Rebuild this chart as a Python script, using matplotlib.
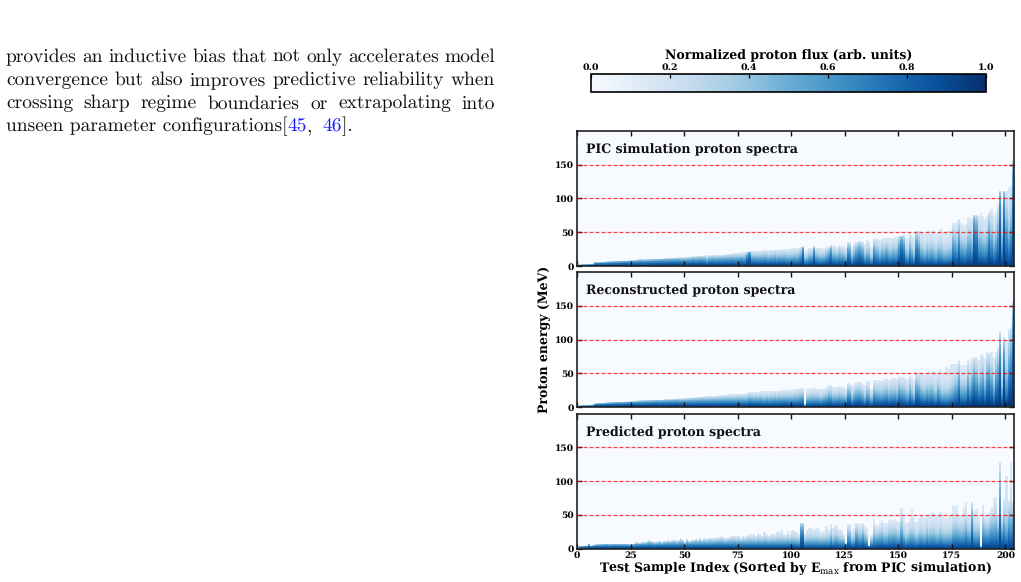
import numpy as np
import matplotlib
matplotlib.use('Agg')
import matplotlib.pyplot as plt
from matplotlib.cm import ScalarMappable
from matplotlib.colors import Normalize
from matplotlib.transforms import IdentityTransform

W, H = 1021, 582

# highest proton energy per test sample (MeV)
emax_pic = [
    2.5, 2.6, 2.8, 3, 3, 3.2, 3.4, 3.5, 6, 6,
    6.2, 6.3, 6.4, 6.5, 6.7, 6.8, 7, 7.2, 7.4, 7.6,
    7.8, 8, 8.2, 8.4, 8.6, 8.8, 9, 9.2, 9.5, 10,
    10, 10, 10.2, 10.4, 10.6, 10.8, 11, 11, 11.2, 11.4,
    11.6, 11.8, 12, 12, 12.2, 12.4, 12.5, 12.5, 12.6, 12.8,
    13, 13.5, 14, 14.5, 14.5, 15, 15, 15.2, 15.4, 15.6,
    15, 15.8, 16, 16, 16.2, 16.5, 16.8, 17, 17.2, 17.5,
    18, 18, 18.5, 18.5, 19, 19, 19.5, 19.5, 20, 20,
    21.5, 21.5, 22, 22, 22.2, 22.2, 22.5, 23, 23, 22.5,
    23, 23.5, 24, 23.5, 24, 24.5, 24.5, 24.5, 25, 24.5,
    25.5, 26, 26, 27, 28, 28.5, 22, 23, 26, 26,
    28.5, 28, 27, 26, 26, 25, 28, 28, 31, 30,
    30, 28, 31, 30, 29, 26, 35, 35, 28, 32,
    36, 37, 37, 36, 32, 38, 37, 28, 40, 40,
    40, 38, 40, 41, 41, 41, 42, 42, 43, 43,
    45, 45, 46, 42, 40, 50, 46, 41, 52, 52,
    51, 50, 47, 52, 54, 52, 54, 48, 50, 55,
    55, 50, 52, 52, 54, 64, 64, 66, 70, 64,
    60, 62, 73, 72, 70, 75, 75, 74, 78, 74,
    70, 74, 80, 85, 76, 80, 92, 111, 90, 111,
    111, 115, 118, 157,
]
emax_rec = [
    2.5, 2.6, 2.8, 3, 3, 3.2, 3.4, 3.5, 5.5, 6,
    6.2, 6.3, 6.4, 6.5, 6.7, 6.8, 7, 7.2, 7.4, 7.6,
    7.8, 8, 8.2, 8.4, 8.6, 8.8, 9, 9.2, 9.5, 9.8,
    10, 10, 10.2, 10.4, 10.6, 10.8, 11, 11, 11.2, 11.4,
    11.6, 11.8, 12, 12, 12.2, 12.4, 12.5, 12.5, 12.6, 12.8,
    13, 13.5, 14, 14, 14.5, 14.5, 15, 15.2, 15.4, 15.6,
    16, 16.2, 16.5, 16.5, 16.8, 17, 17.5, 17.5, 18, 18,
    18.5, 18.5, 18.8, 19, 19.2, 19.5, 19.5, 19.8, 20, 20.5,
    22, 22, 22, 22.2, 22.2, 22.5, 22.5, 22.5, 23, 22.5,
    23, 23.5, 24, 23.5, 24, 24.5, 24.5, 24.5, 25, 25,
    25.5, 26, 27, 27.5, 28, 28, 5, 26, 27, 28,
    28, 28, 27, 26, 26, 27, 29, 32, 32, 30,
    30, 29, 31, 31, 29, 27, 35, 35, 32, 33,
    37, 37, 37, 34, 32, 38, 38, 27, 40, 40,
    40, 40, 38, 41, 41, 40, 42, 43, 43, 42,
    45, 45, 45, 41, 42, 48, 45, 40, 52, 52,
    51, 51, 49, 50, 53, 52, 53, 52, 50, 56,
    50, 52, 60, 58, 63, 63, 64, 63, 70, 62,
    62, 62, 71, 66, 72, 74, 74, 70, 78, 77,
    72, 82, 80, 82, 72, 82, 89, 111, 80, 104,
    100, 116, 118, 157,
]
emax_pred = [
    2, 3, 3.5, 4, 4.5, 7.5, 4.5, 5, 5.5, 6,
    6, 6.5, 6.5, 7, 6.5, 6, 7, 6.5, 6.5, 6.5,
    7, 7, 6.5, 7, 6, 6, 7, 9, 8.5, 8,
    9, 9, 10, 12.5, 11, 10, 9, 10, 11, 9,
    11, 11, 12, 11, 12, 13, 11, 13, 15, 13,
    9, 14, 11, 13, 13, 14, 13, 16, 13, 15,
    14, 16, 16, 15, 16, 16, 17, 18, 16, 15,
    16, 17, 19, 19, 18, 19, 16, 19, 17, 19,
    21, 21, 21, 19, 23, 21, 19, 25, 21, 19,
    22, 22, 21, 25, 24, 27, 22, 20, 26, 22,
    28, 26, 24, 22, 38, 38, 22, 28, 30, 31,
    28, 31, 30, 27, 24, 26, 33, 28, 37, 30,
    35, 33, 29, 28, 20, 8, 37, 36, 26, 30,
    38, 36, 36, 38, 33, 30, 4, 20, 43, 36,
    34, 40, 42, 38, 38, 42, 43, 42, 43, 41,
    40, 60, 46, 38, 40, 45, 58, 46, 40, 45,
    48, 47, 45, 50, 48, 53, 54, 50, 46, 54,
    52, 46, 45, 48, 48, 64, 62, 65, 48, 50,
    62, 69, 50, 48, 69, 56, 59, 46, 3, 64,
    50, 46, 52, 60, 76, 76, 50, 128, 48, 74,
    108, 72, 128, 70,
]

# how fast the flux falls off with energy in each sample
decay_pic = [
    1, 1, 1, 1, 1, 1, 1, 1, 1, 1,
    1, 1, 1, 1, 1, 1, 1, 1, 1, 1,
    1, 1, 1, 1.1, 1.1, 1.1, 1.1, 1.1, 1.1, 1.1,
    1.2, 1.2, 1.2, 1.2, 1.2, 1.2, 1.2, 1.2, 1.2, 1.2,
    1.2, 1.2, 1.2, 1.2, 1.2, 1.2, 1.2, 1.2, 1.3, 1.3,
    1.5, 1.4, 1.5, 1.5, 1.4, 1.7, 1.5, 1.5, 1.5, 1.6,
    2.2, 1.6, 1.6, 1.6, 1.7, 1.7, 1.7, 1.8, 1.7, 1.8,
    1.9, 1.8, 1.8, 1.9, 1.9, 1.9, 1.8, 2, 2, 1,
    0.7, 2, 2.2, 2.2, 2.3, 2.2, 2.4, 2.2, 2.4, 2.6,
    2.2, 2.5, 2.2, 2.6, 2.4, 2.6, 2.4, 2.6, 2.8, 2.6,
    2.8, 2.6, 2.8, 2.4, 2, 0.7, 3, 3, 2.6, 2.4,
    0.9, 2.6, 2.8, 3, 3, 2.8, 2.4, 1.6, 1.2, 2.6,
    2.6, 2.8, 2.4, 2.6, 2.8, 3, 1.4, 1.6, 3.4, 2.4,
    1.8, 1.4, 1.6, 2, 3.4, 3.2, 3, 4, 1.8, 2.4,
    2.8, 3.6, 2.6, 3.2, 2.4, 3.2, 3.6, 2.8, 3.2, 3,
    1.6, 0.9, 1.4, 3.4, 4, 2.4, 3.4, 4.5, 1.4, 2,
    3.6, 4, 4.5, 3.6, 4.5, 3.8, 4.5, 5, 3.6, 4,
    4.5, 5, 5, 4.5, 4.5, 2.2, 2.6, 3.4, 1.8, 3.4,
    3.6, 3.6, 3, 2.8, 3.6, 0.8, 1.1, 3, 3.4, 3.6,
    3.6, 3.2, 1.6, 2.8, 4, 3, 2.2, 0.7, 3.6, 0.7,
    2.4, 4, 2.6, 0.9,
]
decay_rec = [
    0.9, 0.9, 0.9, 0.9, 0.9, 0.9, 0.9, 0.9, 1, 1,
    1, 1, 1, 1, 1, 1, 1, 1, 1, 1,
    1.1, 1.1, 1.1, 1.1, 1.1, 1.1, 1.1, 1.1, 1.1, 1.2,
    1.2, 1.2, 1.2, 1.2, 1.2, 1.2, 1.2, 1.2, 1.3, 1.3,
    1.3, 1.3, 1.3, 1.3, 1.3, 1.3, 1.3, 1.4, 1.4, 1.4,
    1.5, 1.5, 1.6, 1.6, 1.6, 1.7, 1.7, 1.7, 1.7, 1.8,
    1.8, 1.8, 1.9, 1.9, 1.9, 2, 2, 2, 2, 2.1,
    2.1, 2.1, 2.2, 2.2, 2.2, 2.2, 2.3, 2.3, 2.4, 2.4,
    2.2, 2.4, 2.6, 2.4, 2.6, 2.4, 2.6, 2.8, 2.6, 2.8,
    2.6, 2.8, 2.6, 2.8, 2.6, 2.8, 2.6, 2.8, 2.8, 2.8,
    3, 2.8, 3, 2.8, 2.6, 2.4, 2, 3.4, 3.4, 3.4,
    3.2, 3.4, 3.2, 3.4, 3.4, 3, 3, 2.6, 2.8, 3.4,
    3.2, 3.2, 3, 3.4, 3.2, 3.4, 2, 2.2, 4, 3,
    2.6, 2.4, 2.8, 3, 4, 2.6, 3.2, 3.4, 2.6, 3,
    3.2, 3.4, 3.2, 3.2, 2.8, 3.6, 3.2, 3.4, 3.2, 3.6,
    2.4, 2.8, 3.2, 3.4, 4, 2.8, 3.6, 4.5, 2.2, 2.6,
    3.4, 4, 4, 3.2, 4, 3.4, 4.5, 5, 2.8, 4.2,
    5, 5, 6, 5.5, 5, 4.5, 3.6, 3.2, 2, 4,
    4, 4, 2.4, 3.6, 2.6, 1.8, 2.4, 3.4, 3, 2.4,
    4, 2.2, 1.8, 2.8, 4.5, 2.2, 2, 1.2, 5, 1.2,
    4, 2.2, 1.6, 1,
]
decay_pred = [
    0.9, 0.9, 1, 1, 1, 1.4, 1, 1, 1, 1,
    1, 1, 1, 1.1, 1, 1, 1.1, 1, 1, 1,
    1.1, 1.1, 1, 1.1, 1, 1, 1.1, 1.4, 1.3, 1.2,
    1.3, 1.3, 1.4, 1.8, 1.5, 1.4, 1.3, 1.4, 1.5, 1.3,
    1.5, 1.5, 1.6, 1.5, 1.6, 1.8, 1.5, 1.8, 2, 1.7,
    1.2, 1.8, 1.4, 1.7, 1.7, 1.8, 1.7, 2.1, 1.7, 2,
    1.8, 2.1, 2.1, 2, 2.1, 2.1, 2.2, 2.4, 2.1, 2,
    2.1, 2.2, 2.5, 2.5, 2.4, 2.5, 2.1, 2.5, 2.2, 2.5,
    2.8, 2.8, 2.8, 2.5, 3, 2.8, 2.5, 3.4, 2.8, 2.5,
    3, 3, 2.8, 3.4, 3.2, 3.6, 3, 2.6, 3.4, 3,
    3.6, 3.4, 3.2, 3, 1.1, 1.1, 3, 3.6, 4, 4,
    3.6, 4, 4, 3.6, 3.2, 3.4, 4.2, 3.6, 3.2, 4,
    3.6, 3.4, 3.6, 3.6, 2.6, 1.2, 2.4, 2.6, 3.4, 3.6,
    2.2, 3, 3, 2.4, 3, 3.6, 0.8, 2.6, 3.6, 3.4,
    3, 3.4, 3.2, 3.6, 3.6, 3.2, 3.4, 3, 3.2, 3.4,
    3.6, 3.2, 4, 4.5, 4, 3.6, 5, 4, 4.4, 4,
    4, 4.2, 4.4, 3.6, 4.4, 4.4, 4.2, 4.6, 4.4, 4.2,
    4.5, 4.6, 4.2, 4.6, 4.4, 4.4, 3.8, 4.2, 3, 3.4,
    4.2, 3.6, 3.2, 3.4, 1.6, 3.6, 4.5, 3, 1.2, 3.2,
    2.6, 2.6, 2.8, 2.6, 3.6, 3.2, 2.4, 1.7, 2.2, 2.6,
    6, 2.2, 5, 1.8,
]

panel_titles = ['PIC simulation proton spectra', 'Reconstructed proton spectra',
                'Predicted proton spectra']
panel_peaks = [0.96, 1.0, 0.94]
hlines = [50, 100, 150]
xticks = list(range(0, 201, 25))
yticks = [0, 50, 100, 150]
cbar_ticks = [0.0, 0.2, 0.4, 0.6, 0.8, 1.0]

body_lines = [
    'provides an inductive bias that not only accelerates model',
    'convergence but also improves predictive reliability when',
    'crossing sharp regime boundaries or extrapolating into',
]
last_line = [('unseen parameter configurations[', '#111111'), ('45', '#1a1aff'),
             (', ', '#111111'), ('46', '#1a1aff'), (']. ', '#111111')]

plt.rcParams['font.family'] = 'DejaVu Serif'
plt.rcParams['mathtext.fontset'] = 'dejavuserif'
plt.rcParams['text.hinting'] = 'no_hinting'

fig = plt.figure(figsize=(W / 100, H / 100), dpi=100, facecolor='white')


def box(left, top, right, bottom):
    return [left / W, 1 - bottom / H, (right - left) / W, (bottom - top) / H]


def spectra_image(emax, decay, peak):
    # one column per sample, one row per MeV
    energy = np.arange(0, 200) + 0.5
    img = np.zeros((len(energy), len(emax)))
    for i in range(len(emax)):
        t = energy / emax[i]
        col = 0.15 + (peak - 0.15) * np.clip(1 - t, 0, 1) ** (0.47 * decay[i])
        col[t > 1] = 0
        img[:, i] = col
    return img


def style_axes(ax):
    ax.set_xlim(0, 204)
    ax.set_ylim(0, 200)
    ax.set_xticks(xticks)
    ax.set_yticks(yticks)
    ax.tick_params(direction='in', top=True, right=True, length=3.5, width=1, pad=2,
                   labelsize=6.6, color='#111111')
    for lab in ax.get_xticklabels() + ax.get_yticklabels():
        lab.set_fontweight('bold')
    for s in ax.spines.values():
        s.set_linewidth(1.2)
        s.set_color('#222222')


panels = [(emax_pic, decay_pic), (emax_rec, decay_rec), (emax_pred, decay_pred)]
tops = [131, 272, 413.5]
for n, (emax, decay) in enumerate(panels):
    ax = fig.add_axes(box(577, tops[n], 1014, tops[n] + 135))
    img = spectra_image(emax, decay, panel_peaks[n])
    ax.pcolormesh(np.arange(len(emax) + 1), np.arange(201), img, cmap='Blues',
                  vmin=0, vmax=1, shading='flat', rasterized=True)
    for h in hlines:
        ax.axhline(h, color='red', lw=0.9, ls=(0, (3.2, 1.6)), alpha=0.75)
    ax.text(0.02, 0.86, panel_titles[n], transform=ax.transAxes, fontsize=9,
            fontweight='bold', va='center', color='#111111')
    style_axes(ax)
    if n < 2:
        ax.tick_params(labelbottom=False)
    else:
        ax.set_xlabel(r'Test Sample Index (Sorted by $\mathbf{E}_{\mathrm{max}}$ from PIC simulation)',
                      fontsize=9, fontweight='bold', labelpad=0.5)

fig.text(545 / W, 1 - 339 / H, 'Proton energy (MeV)', rotation=90, fontsize=9,
         fontweight='bold', ha='center', va='center')

# colour scale on top of the panels
cax = fig.add_axes(box(590.5, 74, 986, 92))
cb = fig.colorbar(ScalarMappable(Normalize(0, 1), cmap='Blues'), cax=cax, orientation='horizontal')
cb.set_ticks(cbar_ticks)
cb.ax.xaxis.set_ticks_position('top')
cb.ax.xaxis.set_label_position('top')
cb.ax.tick_params(direction='in', length=3, width=0.9, pad=1.5, labelsize=6.8)
for lab in cb.ax.get_xticklabels():
    lab.set_fontweight('bold')
cb.outline.set_linewidth(1.2)
cb.set_label('Normalized proton flux (arb. units)', fontsize=9, fontweight='bold', labelpad=3)

# paragraph beside the chart, set justified word by word
px = IdentityTransform()
renderer = fig.canvas.get_renderer()
body_style = dict(family='cmr10', fontsize=14, transform=px, va='baseline', color='#111111')
left, right = 6, 495
baselines = [62, 85, 108.5, 131.5]


def word_width(s):
    t = fig.text(0, 0, s, **body_style)
    w = t.get_window_extent(renderer).width
    t.remove()
    return w


for line, base in zip(body_lines, baselines):
    words = line.split()
    widths = [word_width(w) for w in words]
    gap = (right - left - sum(widths)) / (len(words) - 1)
    x = left
    for w, ww in zip(words, widths):
        fig.text(x, H - base, w, **body_style)
        x += ww + gap

x = left
for chunk, colour in last_line:
    t = fig.text(x, H - baselines[3], chunk, **{**body_style, 'color': colour})
    x = t.get_window_extent(renderer).x1 + (4 if chunk.endswith(' ') else 0)

fig.savefig('out.png', dpi=100)
